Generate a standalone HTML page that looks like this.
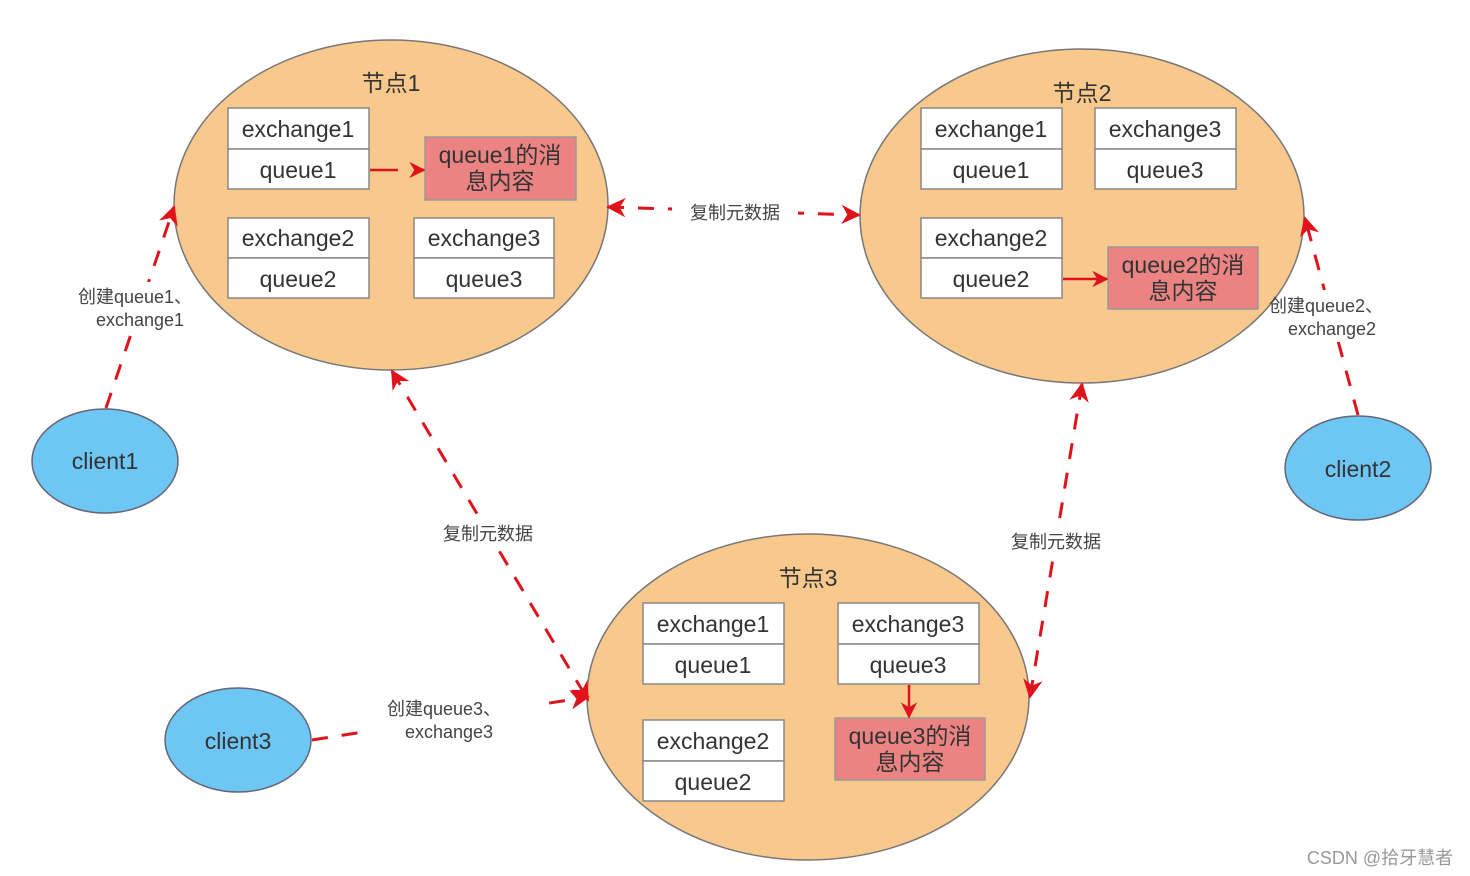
<!DOCTYPE html>
<html><head><meta charset="utf-8"><style>
html,body{margin:0;padding:0;background:#fff;}
svg{display:block;}
text{font-family:"Liberation Sans","Noto Sans CJK SC",sans-serif;fill:#333;}
.bx{fill:#fff;stroke:#888;stroke-width:1.5;}
.pk{fill:#ec8383;stroke:#999;stroke-width:1.5;}
.bt{font-size:23px;text-anchor:middle;}
.lbl{font-size:18px;text-anchor:middle;fill:#444;}
.dash{stroke:#e0121b;stroke-width:3;stroke-dasharray:16 14;fill:none;}
.sol{stroke:#e0121b;stroke-width:2.5;fill:none;}
</style></head><body>
<svg width="1470" height="876" viewBox="0 0 1470 876" xmlns="http://www.w3.org/2000/svg">
<defs>
<marker id="ah" viewBox="0 0 10 10" refX="9" refY="5" markerWidth="6.5" markerHeight="6.5" orient="auto-start-reverse" markerUnits="strokeWidth">
<path d="M0,0 L10,5 L0,10 L3,5 z" fill="#e0121b"/></marker>
</defs>
<ellipse cx="391" cy="205" rx="217" ry="165" fill="#f9c88d" stroke="#777" stroke-width="1.5"/>
<ellipse cx="1082" cy="216" rx="222" ry="167" fill="#f9c88d" stroke="#777" stroke-width="1.5"/>
<ellipse cx="808" cy="697" rx="221" ry="163" fill="#f9c88d" stroke="#777" stroke-width="1.5"/>
<ellipse cx="105" cy="461" rx="73" ry="52" fill="#6ec6f5" stroke="#667" stroke-width="1.5"/>
<ellipse cx="1358" cy="468" rx="73" ry="52" fill="#6ec6f5" stroke="#667" stroke-width="1.5"/>
<ellipse cx="238" cy="740" rx="73" ry="52" fill="#6ec6f5" stroke="#667" stroke-width="1.5"/>
<text x="105" y="469" class="bt">client1</text>
<text x="1358" y="477" class="bt">client2</text>
<text x="238" y="749" class="bt">client3</text>
<text x="391" y="91" class="bt">节点1</text>
<text x="1082" y="101" class="bt">节点2</text>
<text x="808" y="586" class="bt">节点3</text>
<rect x="228" y="108" width="141" height="41" class="bx"/><text x="298" y="137" class="bt">exchange1</text>
<rect x="228" y="149" width="141" height="40" class="bx"/><text x="298" y="178" class="bt">queue1</text>
<rect x="228" y="218" width="141" height="40" class="bx"/><text x="298" y="246" class="bt">exchange2</text>
<rect x="228" y="258" width="141" height="40" class="bx"/><text x="298" y="287" class="bt">queue2</text>
<rect x="414" y="218" width="140" height="40" class="bx"/><text x="484" y="246" class="bt">exchange3</text>
<rect x="414" y="258" width="140" height="40" class="bx"/><text x="484" y="287" class="bt">queue3</text>
<rect x="425" y="137" width="151" height="63" class="pk"/><text x="500" y="163" class="bt">queue1的消</text><text x="500" y="189" class="bt">息内容</text>
<rect x="921" y="108" width="141" height="41" class="bx"/><text x="991" y="137" class="bt">exchange1</text>
<rect x="921" y="149" width="141" height="40" class="bx"/><text x="991" y="178" class="bt">queue1</text>
<rect x="1095" y="108" width="141" height="41" class="bx"/><text x="1165" y="137" class="bt">exchange3</text>
<rect x="1095" y="149" width="141" height="40" class="bx"/><text x="1165" y="178" class="bt">queue3</text>
<rect x="921" y="218" width="141" height="40" class="bx"/><text x="991" y="246" class="bt">exchange2</text>
<rect x="921" y="258" width="141" height="40" class="bx"/><text x="991" y="287" class="bt">queue2</text>
<rect x="1108" y="247" width="150" height="62" class="pk"/><text x="1183" y="273" class="bt">queue2的消</text><text x="1183" y="299" class="bt">息内容</text>
<rect x="643" y="603" width="141" height="41" class="bx"/><text x="713" y="632" class="bt">exchange1</text>
<rect x="643" y="644" width="141" height="40" class="bx"/><text x="713" y="673" class="bt">queue1</text>
<rect x="838" y="603" width="141" height="41" class="bx"/><text x="908" y="632" class="bt">exchange3</text>
<rect x="838" y="644" width="141" height="40" class="bx"/><text x="908" y="673" class="bt">queue3</text>
<rect x="643" y="720" width="141" height="41" class="bx"/><text x="713" y="749" class="bt">exchange2</text>
<rect x="643" y="761" width="141" height="40" class="bx"/><text x="713" y="790" class="bt">queue2</text>
<rect x="835" y="718" width="150" height="62" class="pk"/><text x="910" y="744" class="bt">queue3的消</text><text x="910" y="770" class="bt">息内容</text>
<line x1="370" y1="170" x2="424" y2="170" class="sol" stroke-dasharray="28 18" marker-end="url(#ah)"/>
<line x1="1063" y1="279" x2="1107" y2="279" class="sol" marker-end="url(#ah)"/>
<line x1="909" y1="685" x2="909" y2="717" class="sol" marker-end="url(#ah)"/>
<line x1="106" y1="408" x2="174" y2="207" class="dash" marker-end="url(#ah)"/>
<line x1="1358" y1="415" x2="1305" y2="218" class="dash" marker-end="url(#ah)"/>
<line x1="312" y1="740" x2="588" y2="697" class="dash" marker-end="url(#ah)"/>
<line x1="608" y1="207" x2="859" y2="215" class="dash" marker-start="url(#ah)" marker-end="url(#ah)"/>
<line x1="392" y1="371" x2="588" y2="700" class="dash" marker-start="url(#ah)" marker-end="url(#ah)"/>
<line x1="1082" y1="384" x2="1030" y2="697" class="dash" marker-start="url(#ah)" marker-end="url(#ah)"/>
<rect x="672" y="198" width="126" height="28" fill="#fff"/><text x="735" y="219" class="lbl">复制元数据</text>
<rect x="432" y="518" width="112" height="30" fill="#fff"/><text x="488" y="540" class="lbl">复制元数据</text>
<rect x="1000" y="526" width="112" height="30" fill="#fff"/><text x="1056" y="548" class="lbl">复制元数据</text>
<rect x="100" y="282" width="90" height="52" fill="#fff"/><text x="135" y="303" class="lbl">创建queue1、</text><text x="140" y="326" class="lbl">exchange1</text>
<rect x="1310" y="290" width="40" height="52" fill="#fff"/><text x="1326" y="312" class="lbl">创建queue2、</text><text x="1332" y="335" class="lbl">exchange2</text>
<rect x="362" y="692" width="180" height="52" fill="#fff"/><text x="444" y="715" class="lbl">创建queue3、</text><text x="449" y="738" class="lbl">exchange3</text>
<text x="1380" y="864" font-size="18" text-anchor="middle" style="fill:#999">CSDN @拾牙慧者</text>
</svg>
</body></html>
